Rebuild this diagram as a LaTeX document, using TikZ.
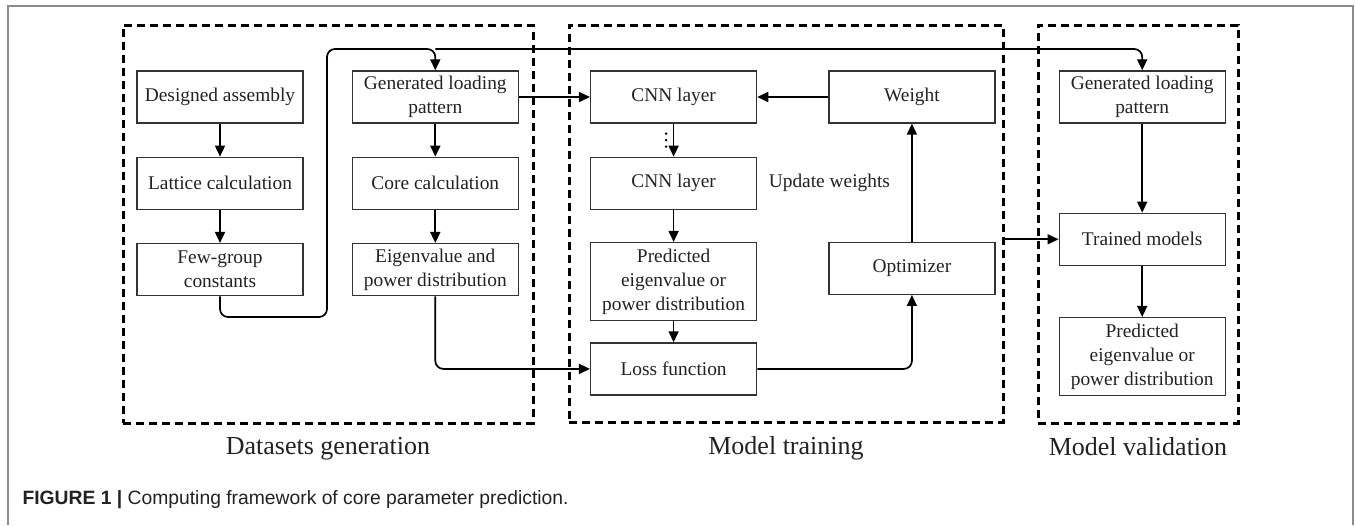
\documentclass[tikz,border=0pt]{standalone}
\usepackage{fontspec}
\setmainfont{Liberation Serif}
\newfontfamily\capfont{Liberation Sans}
\usetikzlibrary{arrows.meta,positioning}
\definecolor{cFrame}{HTML}{8C8C8C}
\definecolor{cLine}{HTML}{333333}
\definecolor{cText}{HTML}{222222}

\begin{document}
\begin{tikzpicture}[
  x=1pt, y=-1pt,
  font=\fontsize{19.4}{24}\selectfont,
  node distance=33pt and 48pt,
  box/.style={draw=cLine, line width=1.3pt, align=center, inner sep=3pt,
              minimum width=166pt, minimum height=52pt, text=cText},
  tallbox/.style={box, minimum height=78pt},
  group/.style={draw=black, line width=3pt, dash pattern=on 8pt off 5pt},
  grouplabel/.style={font=\fontsize{26}{30}\selectfont, text=cText, inner sep=2pt},
  arr/.style={-{Triangle[length=11pt,width=10pt]}, line width=1.7pt, black},
]
\useasboundingbox (0,0) rectangle (1356,525);

% ---------- frame ----------
\draw[cFrame, line width=1.4pt] (8,525) -- (8,6) -- (1353,6) -- (1353,525);

% ---------- datasets generation ----------
\node[box] (asm) at (220,97) {Designed assembly};
\node[box, below=of asm] (lattice) {Lattice calculation};
\node[box, below=of lattice] (fewgrp) {Few-group\\constants};
\node[box, right=of asm] (genlp) {Generated loading\\pattern};
\node[box, below=of genlp] (corecalc) {Core calculation};
\node[box, below=of corecalc] (eigen) {Eigenvalue and\\power distribution};

% ---------- model training ----------
\node[box, right=71pt of genlp] (cnnA) {CNN layer};
\node[box, below=of cnnA] (cnnB) {CNN layer};
\node[tallbox, below=32pt of cnnB] (pred) {Predicted\\eigenvalue or\\power distribution};
\node[box, below=21pt of pred] (loss) {Loss function};
\node[box, right=71pt of cnnA] (weight) {Weight};
\node[box, below=118pt of weight] (optim) {Optimizer};
\node[right=8pt of cnnB, text=cText] (upd) {Update weights};

% ---------- model validation ----------
\node[box, right=63pt of weight] (genlpV) {Generated loading\\pattern};
\node[box, below=89pt of genlpV] (trained) {Trained models};
\node[tallbox, below=51pt of trained] (predV) {Predicted\\eigenvalue or\\power distribution};

% ---------- dashed groups ----------
\node[group, minimum width=410pt, minimum height=398pt] (gengrp) at (328,224) {};
\node[group, minimum width=434pt, minimum height=397pt] (traingrp) at (786,223.5) {};
\node[group, minimum width=200pt, minimum height=398pt] (validgrp) at (1138,224) {};
\node[grouplabel, below=10.5pt of gengrp] (genlbl) {Datasets generation};
\node[grouplabel, below=10.5pt of traingrp] (trainlbl) {Model training};
\node[grouplabel, below=10.5pt of validgrp] (validlbl) {Model validation};

% ---------- arrows ----------
\coordinate (lowbend) at (327,317);
\coordinate (toprail) at (327,49);
\draw[arr] (asm) -- (lattice);
\draw[arr] (lattice) -- (fewgrp);
\draw[arr] (genlp) -- (corecalc);
\draw[arr] (corecalc) -- (eigen);
\draw[arr, rounded corners=8pt] (fewgrp.south) |- (lowbend) -- (toprail) -| (genlp.north);
\draw[arr, rounded corners=8pt] (genlp.north |- toprail) -| (genlpV.north);
\draw[arr] (genlp) -- (cnnA);
\draw[arr, rounded corners=8pt] (eigen.south) |- (loss.west);
\draw[arr] (cnnA) -- (cnnB);
\path (cnnA.south) -- (cnnB.north) coordinate[midway] (cnnmid);
\foreach \k in {-6.5,0,6.5}
  \fill ([shift={(-7.5,\k)}]cnnmid) circle (1.4pt);
\draw[arr] (cnnB) -- (pred);
\draw[arr] (pred) -- (loss);
\draw[arr, rounded corners=8pt] (loss.east) -| (optim.south);
\draw[arr] (optim) -- (weight);
\draw[arr] (weight) -- (cnnA);
\draw[arr] (trained.west -| traingrp.east) -- (trained.west);
\draw[arr] (genlpV) -- (trained);
\draw[arr] (trained) -- (predV);

% ---------- caption ----------
\node[anchor=west, font=\capfont\fontsize{19.3}{22}\selectfont, text=cText] (caption)
  at (19,500) {\textbf{FIGURE 1 |} Computing framework of core parameter prediction.};

\end{tikzpicture}
\end{document}
